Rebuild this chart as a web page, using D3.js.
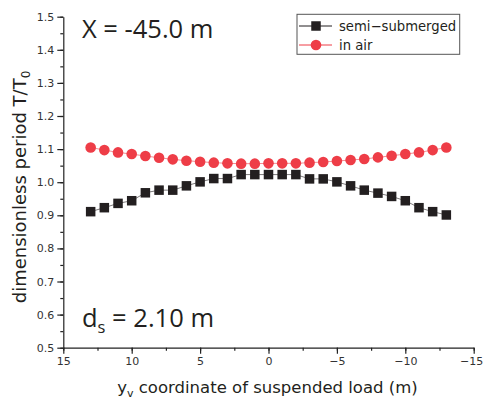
<!DOCTYPE html>
<html>
<head>
<meta charset="utf-8">
<script src="https://cdn.jsdelivr.net/npm/d3@7"></script>
<style>
  body { margin: 0; background: #fff; }
  svg { display: block; }
  .tick text { fill: #333; }
</style>
</head>
<body>
<svg id="chart"></svg>
<script>
const WIDTH = 484, HEIGHT = 402;
const LEFT = 63.3, RIGHT = 473.7, TOP = 16.7, BOTTOM = 347.7;

// y_v coordinate of suspended load (m)
const yv = [13, 12, 11, 10, 9, 8, 7, 6, 5, 4, 3, 2, 1, 0, -1, -2, -3, -4, -5, -6, -7, -8, -9, -10, -11, -12, -13];
const semiSubmerged = [0.911, 0.923, 0.936, 0.944, 0.968, 0.976, 0.976, 0.989, 1.001, 1.011, 1.011, 1.023, 1.023, 1.023,
  1.023, 1.023, 1.010, 1.010, 1.001, 0.989, 0.976, 0.967, 0.957, 0.944, 0.923, 0.911, 0.901];
const inAir = [1.105, 1.097, 1.090, 1.085, 1.079, 1.074, 1.069, 1.065, 1.062, 1.059, 1.057, 1.056, 1.056, 1.057,
  1.057, 1.057, 1.059, 1.061, 1.064, 1.067, 1.070, 1.075, 1.080, 1.085, 1.090, 1.097, 1.105];
const xTicks = [15, 10, 5, 0, -5, -10, -15];
const yTicks = [0.5, 0.6, 0.7, 0.8, 0.9, 1.0, 1.1, 1.2, 1.3, 1.4, 1.5];

const svg = d3.select('#chart').attr('width', WIDTH).attr('height', HEIGHT);

const x = d3.scaleLinear().domain([15, -15]).range([LEFT, RIGHT]);
const y = d3.scaleLinear().domain([0.5, 1.5]).range([BOTTOM, TOP]);

const tickFont = '"DejaVu Sans", sans-serif';

// minor ticks
svg.append('g')
  .attr('transform', `translate(0, ${BOTTOM})`)
  .call(d3.axisBottom(x).tickValues(d3.range(15, -15.1, -2.5)).tickSize(3).tickFormat(''))
  .call(g => g.select('.domain').remove());
svg.append('g')
  .attr('transform', `translate(${LEFT}, 0)`)
  .call(d3.axisLeft(y).tickValues(d3.range(0.5, 1.501, 0.05)).tickSize(3).tickFormat(''))
  .call(g => g.select('.domain').remove());

const xAxis = svg.append('g')
  .attr('transform', `translate(0, ${BOTTOM})`)
  .call(d3.axisBottom(x).tickValues(xTicks).tickSize(6).tickSizeOuter(0).tickPadding(4));
xAxis.selectAll('text').style('font-family', tickFont).style('font-size', '11px');
// keep the last label inside the window
xAxis.selectAll('.tick').filter(d => d === -15).select('text')
  .attr('text-anchor', 'end').attr('dx', 9);

const yAxis = svg.append('g')
  .attr('transform', `translate(${LEFT}, 0)`)
  .call(d3.axisLeft(y).tickValues(yTicks).tickFormat(d3.format('.1f')).tickSize(6).tickSizeOuter(0).tickPadding(3));
yAxis.selectAll('text').style('font-family', tickFont).style('font-size', '11px');

svg.selectAll('.domain, .tick line').attr('stroke', '#222').attr('stroke-width', 1.2);

// series
const line = d3.line().x(d => x(d[0])).y(d => y(d[1]));
const sSemi = yv.map((v, i) => [v, semiSubmerged[i]]);
const sAir = yv.map((v, i) => [v, inAir[i]]);

svg.append('path').datum(sSemi).attr('d', line).attr('fill', 'none').attr('stroke', '#231f20').attr('stroke-width', 0.6);
svg.append('path').datum(sAir).attr('d', line).attr('fill', 'none').attr('stroke', '#ee3d47').attr('stroke-width', 0.6);

const SQ = 9.5;
svg.append('g').selectAll('rect').data(sSemi).enter().append('rect')
  .attr('x', d => x(d[0]) - SQ / 2)
  .attr('y', d => y(d[1]) - SQ / 2)
  .attr('width', SQ).attr('height', SQ)
  .attr('fill', '#231f20');

svg.append('g').selectAll('circle').data(sAir).enter().append('circle')
  .attr('cx', d => x(d[0]))
  .attr('cy', d => y(d[1]))
  .attr('r', 5.3)
  .attr('fill', '#ee3d47');

// annotations
const annFont = '"Open Sans", "Liberation Sans", sans-serif';
svg.append('text')
  .attr('x', 82).attr('y', 38)
  .style('font-family', annFont).style('font-size', '25.5px').attr('fill', '#231f20')
  .text('X = -45.0 m');

const ds = svg.append('text')
  .attr('x', 82).attr('y', 327)
  .style('font-family', annFont).style('font-size', '25.5px').attr('fill', '#231f20');
ds.append('tspan').text('d');
ds.append('tspan').attr('dy', 6).style('font-size', '16.5px').text('s');
ds.append('tspan').attr('dy', -6).text(' = 2.10 m');

// axis titles
const labFont = '"DejaVu Sans", sans-serif';
const xl = svg.append('text')
  .attr('x', 267.5).attr('y', 393)
  .attr('text-anchor', 'middle')
  .style('font-family', labFont).style('font-size', '16.5px').attr('fill', '#231f20');
xl.append('tspan').text('y');
xl.append('tspan').attr('dy', 4).style('font-size', '11px').text('v');
xl.append('tspan').attr('dy', -4).text(' coordinate of suspended load (m)');

const yl = svg.append('text')
  .attr('transform', 'translate(26, 187) rotate(-90)')
  .attr('text-anchor', 'middle')
  .style('font-family', labFont).style('font-size', '18px').attr('fill', '#231f20');
yl.append('tspan').text('dimensionless period T/T');
yl.append('tspan').attr('dy', 4).style('font-size', '12px').text('0');

// legend
const legend = svg.append('g').attr('transform', 'translate(297, 14.3)');
legend.append('rect').attr('width', 162.7).attr('height', 40)
  .attr('fill', '#fff').attr('stroke', '#555').attr('stroke-width', 1);
const items = [
  { name: 'semi\u2212submerged', color: '#231f20', shape: 'square' },
  { name: 'in air', color: '#ee3d47', shape: 'circle' }
];
items.forEach((it, i) => {
  const g = legend.append('g').attr('transform', `translate(0, ${11.7 + i * 19})`);
  g.append('line').attr('x1', 2).attr('x2', 35).attr('stroke', it.color).attr('stroke-width', 1);
  if (it.shape === 'square') {
    g.append('rect').attr('x', 19 - SQ / 2).attr('y', -SQ / 2).attr('width', SQ).attr('height', SQ).attr('fill', it.color);
  } else {
    g.append('circle').attr('cx', 19).attr('r', 5.3).attr('fill', it.color);
  }
  g.append('text').attr('x', 42).attr('y', 5)
    .style('font-family', labFont).style('font-size', '13.2px').attr('fill', '#231f20')
    .text(it.name);
});
</script>
</body>
</html>
